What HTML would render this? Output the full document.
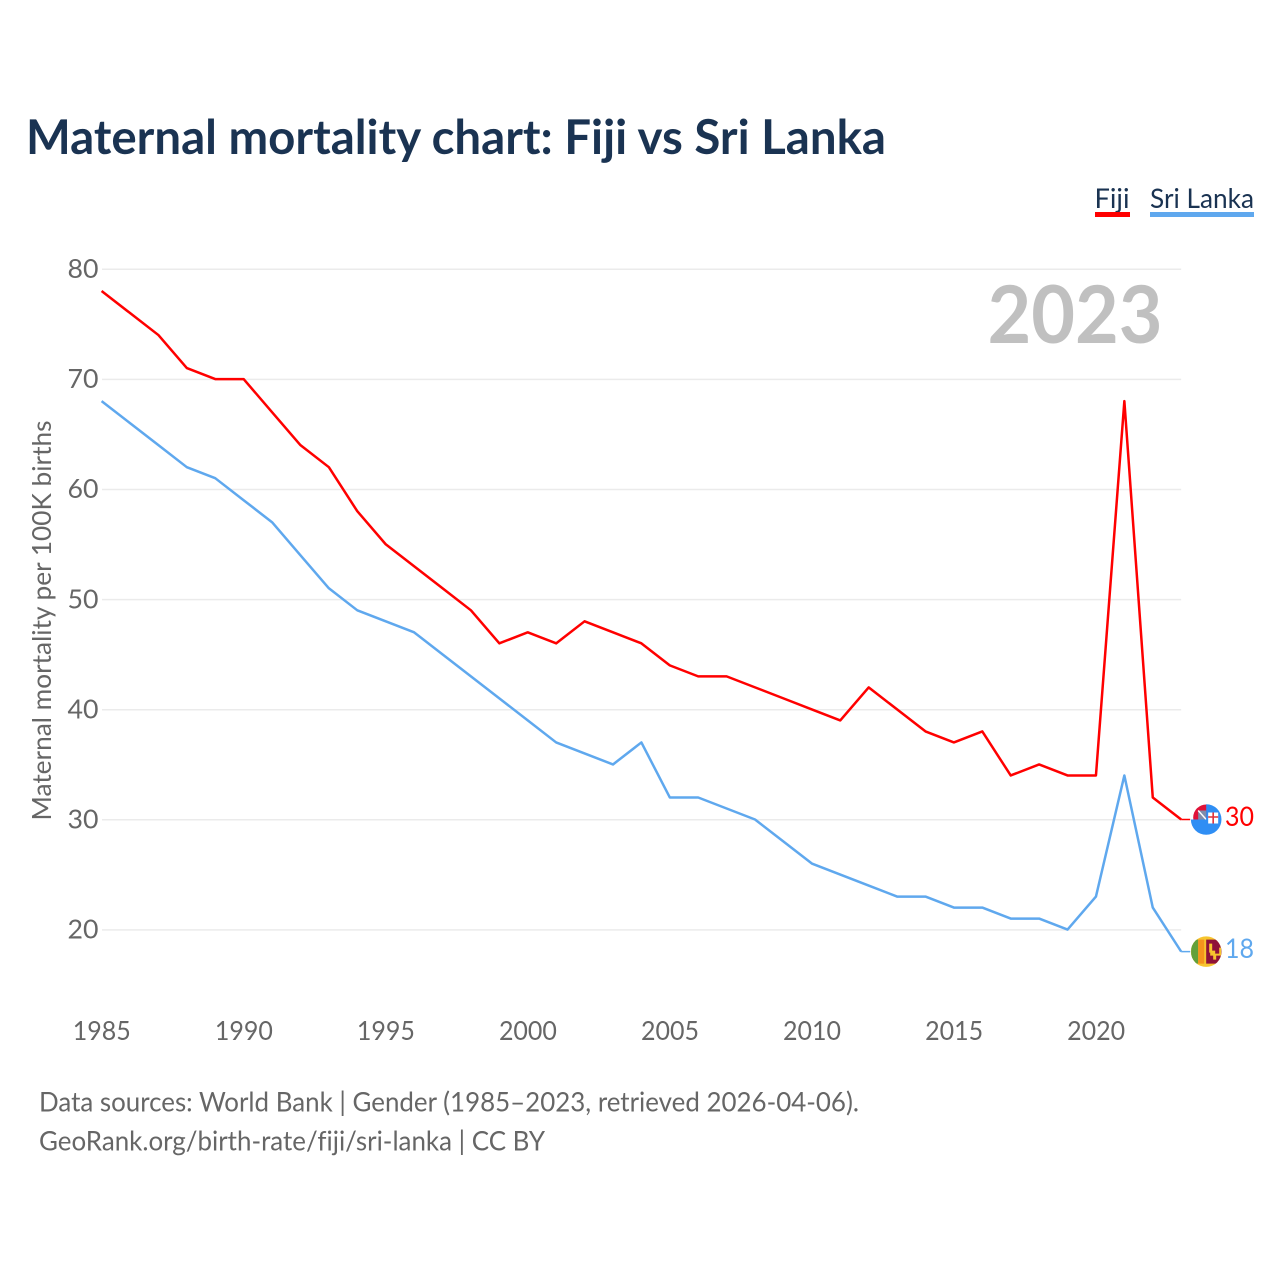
<!DOCTYPE html>
<html lang="en">
<head>
<meta charset="utf-8">
<title>Maternal mortality chart: Fiji vs Sri Lanka</title>
<style>
html,body{margin:0;padding:0;background:#fff;}
svg{display:block;}
text{font-family:"Lato","Carlito","Liberation Sans",sans-serif;font-variant-ligatures:none;}
</style>
</head>
<body>
<svg id="chart" xmlns="http://www.w3.org/2000/svg" width="1280" height="1280" viewBox="0 0 1280 1280">
  <rect width="1280" height="1280" fill="#fff"/>
  <text x="26" y="154" font-size="47.5" font-weight="700" fill="#1a3352" textLength="860" lengthAdjust="spacingAndGlyphs">Maternal mortality chart: Fiji vs Sri Lanka</text>

  <g>
    <text x="1094.5" y="208" font-size="27" fill="#1a3352" textLength="35" lengthAdjust="spacingAndGlyphs">Fiji</text>
    <rect x="1095" y="212" width="35" height="5" fill="#ff0000"/>
    <text x="1150" y="208" font-size="27" fill="#1a3352" textLength="104" lengthAdjust="spacingAndGlyphs">Sri Lanka</text>
    <rect x="1150" y="212" width="104" height="5" fill="#5fa8ee"/>
  </g>

  <g id="grid"></g>
  <g id="yticks"></g>
  <g id="xticks"></g>

  <text x="987.5" y="343" font-size="80" font-weight="700" fill="#c0c0c0" textLength="175" lengthAdjust="spacingAndGlyphs">2023</text>

  <text transform="translate(51,820.5) rotate(-90)" x="0" y="0" font-size="26" fill="#666666" textLength="400" lengthAdjust="spacingAndGlyphs">Maternal mortality per 100K births</text>

  <g id="series"></g>

  <g id="flags"></g>

  <text x="39" y="1111.5" font-size="27" fill="#666666" textLength="820" lengthAdjust="spacingAndGlyphs">Data sources: World Bank | Gender (1985–2023, retrieved 2026-04-06).</text>
  <text x="39" y="1150.5" font-size="27" fill="#666666" textLength="506" lengthAdjust="spacingAndGlyphs">GeoRank.org/birth-rate/fiji/sri-lanka | CC BY</text>
</svg>
<script>
const years = [1985,1986,1987,1988,1989,1990,1991,1992,1993,1994,1995,1996,1997,1998,1999,2000,2001,2002,2003,2004,2005,2006,2007,2008,2009,2010,2011,2012,2013,2014,2015,2016,2017,2018,2019,2020,2021,2022,2023];
const fijiValues = [78,76,74,71,70,70,67,64,62,58,55,53,51,49,46,47,46,48,47,46,44,43,43,42,41,40,39,42,40,38,37,38,34,35,34,34,68,32,30];
const sriLankaValues = [68,66,64,62,61,59,57,54,51,49,48,47,45,43,41,39,37,36,35,37,32,32,31,30,28,26,25,24,23,23,22,22,21,21,20,23,34,22,18];
const yTickValues = [20,30,40,50,60,70,80];
const xTickValues = [1985,1990,1995,2000,2005,2010,2015,2020];

const NS = 'http://www.w3.org/2000/svg';
function xScale(year){ return 101.6 + (year - 1985) * 28.41; }
function yScale(value){ return 929.6 - (value - 20) * 11.01; }
function make(tag, attrs, parent){
  const el = document.createElementNS(NS, tag);
  for (const k in attrs) el.setAttribute(k, attrs[k]);
  parent.appendChild(el);
  return el;
}

const gridGroup = document.getElementById('grid');
const yTickGroup = document.getElementById('yticks');
yTickValues.forEach(function(v){
  const line = make('line', {x1:102, x2:xScale(2023), y1:yScale(v)+0.3, y2:yScale(v)+0.3, stroke:'#ebebeb', 'stroke-width':1.5}, gridGroup);
  
  
  const t = make('text', {x:67.5, y:yScale(v)+9, 'font-size':26, fill:'#666666', textLength:31, lengthAdjust:'spacingAndGlyphs'}, yTickGroup);
  t.textContent = v;
  
  
});

const xTickGroup = document.getElementById('xticks');
xTickValues.forEach(function(y){
  const t = make('text', {x:xScale(y)-28.8, y:1040, 'font-size':26, fill:'#666666', textLength:58, lengthAdjust:'spacingAndGlyphs'}, xTickGroup);
  t.textContent = y;
  
  
});

function linePoints(values){
  return values.map(function(v, i){ return xScale(years[i]).toFixed(2) + ',' + yScale(v).toFixed(2); }).join(' ');
}
const seriesGroup = document.getElementById('series');
const fijiLine = make('polyline', {points:linePoints(fijiValues), fill:'none', stroke:'#ff0000', 'stroke-width':2.5, 'stroke-linejoin':'round'}, seriesGroup);


const sriLine = make('polyline', {points:linePoints(sriLankaValues), fill:'none', stroke:'#5fa8ee', 'stroke-width':2.5, 'stroke-linejoin':'round'}, seriesGroup);



const flags = document.getElementById('flags');
const lastX = xScale(years[years.length - 1]);
const fijiY = yScale(fijiValues[fijiValues.length - 1]);
const sriY = yScale(sriLankaValues[sriLankaValues.length - 1]);
const flagX = lastX + 25;

const fijiConnector = make('line', {x1:lastX, x2:lastX+9, y1:fijiY, y2:fijiY, stroke:'#ff0000', 'stroke-width':1.5}, flags);


const sriConnector = make('line', {x1:lastX, x2:lastX+9, y1:sriY, y2:sriY, stroke:'#5fa8ee', 'stroke-width':1.5}, flags);



/* Fiji marker */
const fijiFlag = make('g', {transform:'translate(' + flagX + ',' + fijiY + ')'}, flags);


make('circle', {cx:0, cy:-2, r:13, fill:'#e01238'}, fijiFlag);
make('rect', {x:-8, y:-9, width:8, height:9, fill:'#7f8cab'}, fijiFlag);
make('path', {d:'M-8 -9L0 0', stroke:'#ffffff', 'stroke-width':1.4, fill:'none'}, fijiFlag);
make('path', {d:'M0 -15.3A15.3 15.3 0 1 1 -15.3 0L0 0Z', fill:'#2f8ef4'}, fijiFlag);
make('rect', {x:2, y:-7, width:10, height:11, fill:'#ffffff'}, fijiFlag);
make('path', {d:'M7 -7V4M2 -2.5H12', stroke:'#e0303a', 'stroke-width':1.6, fill:'none'}, fijiFlag);

/* Sri Lanka marker */
const clip = make('clipPath', {id:'lk-clip'}, flags);
make('circle', {cx:0, cy:0, r:15.3}, clip);
const sriFlag = make('g', {transform:'translate(' + flagX + ',' + sriY + ')', 'clip-path':'url(#lk-clip)'}, flags);


make('rect', {x:-16, y:-16, width:32, height:32, fill:'#f7c52e'}, sriFlag);
make('rect', {x:-15, y:-12, width:7, height:24, fill:'#62a03a'}, sriFlag);
make('rect', {x:-8, y:-12, width:6, height:24, fill:'#f5941d'}, sriFlag);
make('rect', {x:0, y:-12, width:17, height:24, fill:'#8f1238'}, sriFlag);
make('path', {d:'M3 -8H6V-1H9V2H13V-4H15V4H10V8H7V4H4V1H3Z', fill:'#f7c52e'}, sriFlag);

const fijiLabel = make('text', {x:1225, y:fijiY+6.5, 'font-size':27, fill:'#ff0000', textLength:29, lengthAdjust:'spacingAndGlyphs'}, flags);
fijiLabel.textContent = fijiValues[fijiValues.length - 1];


const sriLabel = make('text', {x:1225, y:sriY+6.5, 'font-size':27, fill:'#5fa8ee', textLength:29, lengthAdjust:'spacingAndGlyphs'}, flags);
sriLabel.textContent = sriLankaValues[sriLankaValues.length - 1];


</script>
</body>
</html>
